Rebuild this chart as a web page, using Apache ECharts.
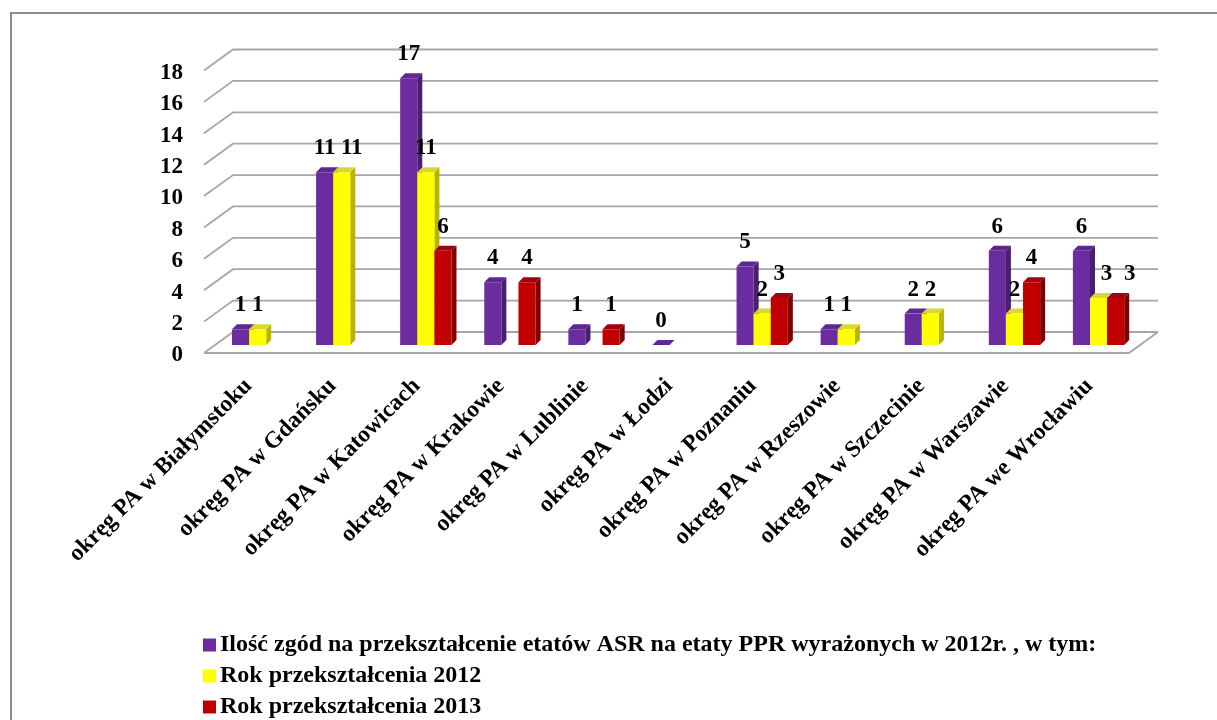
<!DOCTYPE html>
<html><head><meta charset="utf-8">
<style>html,body{margin:0;padding:0;background:#fff;overflow:hidden}
#c{position:absolute;left:0;top:0;width:1217px;height:720px;filter:blur(0.45px)}</style>
<script src="https://cdn.jsdelivr.net/npm/echarts@6/dist/echarts.min.js"></script>
</head><body><div id="c"></div>
<script>
const categories = ['okręg PA w Białymstoku','okręg PA w Gdańsku','okręg PA w Katowicach','okręg PA w Krakowie','okręg PA w Lublinie','okręg PA w Łodzi','okręg PA w Poznaniu','okręg PA w Rzeszowie','okręg PA w Szczecinie','okręg PA w Warszawie','okręg PA we Wrocławiu'];
const seriesNames = ['Ilość zgód na przekształcenie etatów ASR na etaty PPR wyrażonych w 2012r. , w tym:','Rok przekształcenia 2012','Rok przekształcenia 2013'];
const consents = [1,11,17,4,1,0,5,1,2,6,6];
const year2012 = [1,11,11,null,null,null,2,1,2,2,3];
const year2013 = [null,null,6,4,1,null,3,null,null,4,3];
const yTicks = [0,2,4,6,8,10,12,14,16,18];
const colors = [['#6b2c9f','#5f2694','#4a1e70'],['#ffff00','#d8d830','#b5b500'],['#c00000','#a20010','#800000']];

const FONT = '"Liberation Serif","Times New Roman",serif';
const wall = {dx:29, dy:-21};
const slot = {left:28, width:17.1, lift:8};
const bar3d = {dx:5, dy:-5};
const labelNudge = {'1:1':10,'1:10':8,'2:10':14};

function wallItem(params, api){
  const v = api.value(0);
  const rect = params.coordSys;
  const p = api.coord([0, v]);
  const x0 = rect.x, x1 = rect.x + rect.width, y = p[1];
  const line = {stroke:'#a6a6a6', lineWidth:1.8};
  const children = [
    {type:'polyline', shape:{points:[[x0,y],[x0+wall.dx,y+wall.dy],[x1+wall.dx,y+wall.dy]]}, style:Object.assign({fill:null},line), silent:true},
    {type:'text', silent:true, style:{text:String(v), x:x0-21, y:y+2.5, align:'right', verticalAlign:'middle', fill:'#000', font:'bold 23px '+FONT}}
  ];
  if(v===0){
    children.push({type:'polyline', shape:{points:[[x0,y],[x1,y],[x1+wall.dx,y+wall.dy]]}, style:Object.assign({fill:null},line), silent:true});
  }
  return {type:'group', children};
}
function barItem(si){
  return function(params, api){
    const raw = api.value(1);
    if(raw===null || raw===undefined || isNaN(raw)) return null;
    const cat = api.value(0);
    const c = api.coord([cat, raw]);
    const base = api.coord([cat, 0]);
    const band = api.size([1,0])[0];
    const x = c[0]-band/2+slot.left+si*slot.width, w = slot.width;
    const yT = c[1]-slot.lift, yB = base[1]-slot.lift;
    const col = colors[si];
    const d = bar3d;
    const nudge = labelNudge[si+':'+cat] || 0;
    const kids = [
      {type:'polygon', shape:{points:[[x+w,yT],[x+w+d.dx,yT+d.dy],[x+w+d.dx,yB+d.dy],[x+w,yB]]}, style:{fill:col[2]}},
      {type:'polygon', shape:{points:[[x,yT],[x+d.dx,yT+d.dy],[x+w+d.dx,yT+d.dy],[x+w,yT]]}, style:{fill:col[1]}},
      {type:'rect', shape:{x:x,y:yT,width:w,height:yB-yT}, style:{fill:col[0]}},
      {type:'text', z2:100, style:{text:String(raw), x:x+w/2+nudge, y:yT-24, align:'center', verticalAlign:'middle', fill:'#000', font:'bold 23px '+FONT}}
    ];
    return {type:'group', children:kids};
  };
}
const barSeries = [consents,year2012,year2013].map((vals,i)=>({
  name:seriesNames[i], type:'custom', renderItem:barItem(i), xAxisIndex:0, yAxisIndex:0,
  itemStyle:{color:colors[i][0]}, z:5+i, animation:false,
  encode:{x:0,y:1},
  data:vals.map((v,k)=>[k,v===null?'-':v])
}));
const chart = echarts.init(document.getElementById('c'));
chart.setOption({
  animation:false,
  backgroundColor:'#fff',
  textStyle:{fontFamily:FONT},
  grid:{left:204,top:70.5,width:925,height:282.5,containLabel:false},
  xAxis:{type:'category',data:categories,axisLine:{show:false},axisTick:{show:false},
    axisLabel:{rotate:45,interval:0,margin:15,padding:[0,8.5,0,0],fontFamily:FONT,fontWeight:'bold',fontSize:23.5,color:'#000',align:'right',verticalAlign:'top',overflow:'none'}},
  yAxis:{type:'value',min:0,max:18,interval:2,axisLine:{show:false},axisTick:{show:false},splitLine:{show:false},axisLabel:{show:false}},
  legend:{orient:'vertical',left:198,top:628,height:130,itemWidth:13,itemHeight:13,itemGap:7,selectedMode:false,
    textStyle:{fontFamily:FONT,fontWeight:'bold',fontSize:24,color:'#000',padding:[0,0,0,-1]},
    data:seriesNames.map(n=>({name:n,icon:'rect'}))},
  graphic:[{type:'polyline',silent:true,shape:{points:[[11,720],[11,13],[1217,13]]},style:{fill:null,stroke:'#8c8c8c',lineWidth:2}}],
  series:[{type:'custom',name:'grid',renderItem:wallItem,silent:true,z:1,data:yTicks.map(v=>[v]),encode:{y:0},animation:false}].concat(barSeries)
});
</script></body></html>
